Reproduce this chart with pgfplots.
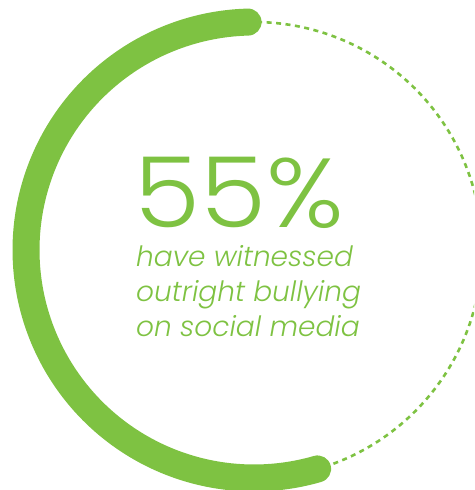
\documentclass[border=0pt]{standalone}
\usepackage{pgfplots}
\pgfplotsset{compat=1.18}
\usepackage{fontspec}
\newfontfamily\numfont{Poppins Light}
\newfontfamily\capfont{Poppins Light Italic}
\definecolor{ringgreen}{RGB}{126,194,66}

% share of respondents, in percent
\def\share{55}

\begin{document}
\begin{tikzpicture}
\begin{axis}[
  x=1pt, y=1pt,
  xmin=-254, xmax=220,
  ymin=-240, ymax=250,
  hide axis,
  scale only axis,
  clip=true,
]
% remaining part: dashed thin ring
\addplot[ringgreen, line width=2.6pt, dash pattern=on 5pt off 4.5pt,
  domain=90+3.6*\share:450, samples=120, variable=\t]
  ({228*cos(t)}, {228*sin(t)});
% share: thick solid ring, counter-clockwise from the top
% (the round caps sit inside the segment)
\addplot[ringgreen, line width=27pt, line cap=round,
  domain=91.5:90+3.6*\share-1.8, samples=150, variable=\t]
  ({228*cos(t)}, {228*sin(t)});

\node[anchor=base west, inner sep=0pt, text=ringgreen, text depth=0pt,
  font=\numfont\fontsize{98}{98}\selectfont]
  at (axis cs:-120,22) {\scalebox{1.09}[1]{55\%}};
\begin{scope}[every node/.style={anchor=base west, inner sep=0pt,
  text=ringgreen, font=\capfont\fontsize{28}{28}\selectfont}]
\node at (axis cs:-118,-17) {have witnessed};
\node at (axis cs:-118,-52) {outright bullying};
\node at (axis cs:-118,-87) {on social media};
\end{scope}
\end{axis}
\pgfresetboundingbox
\path (current axis.south west) rectangle (current axis.north east);
\end{tikzpicture}
\end{document}
